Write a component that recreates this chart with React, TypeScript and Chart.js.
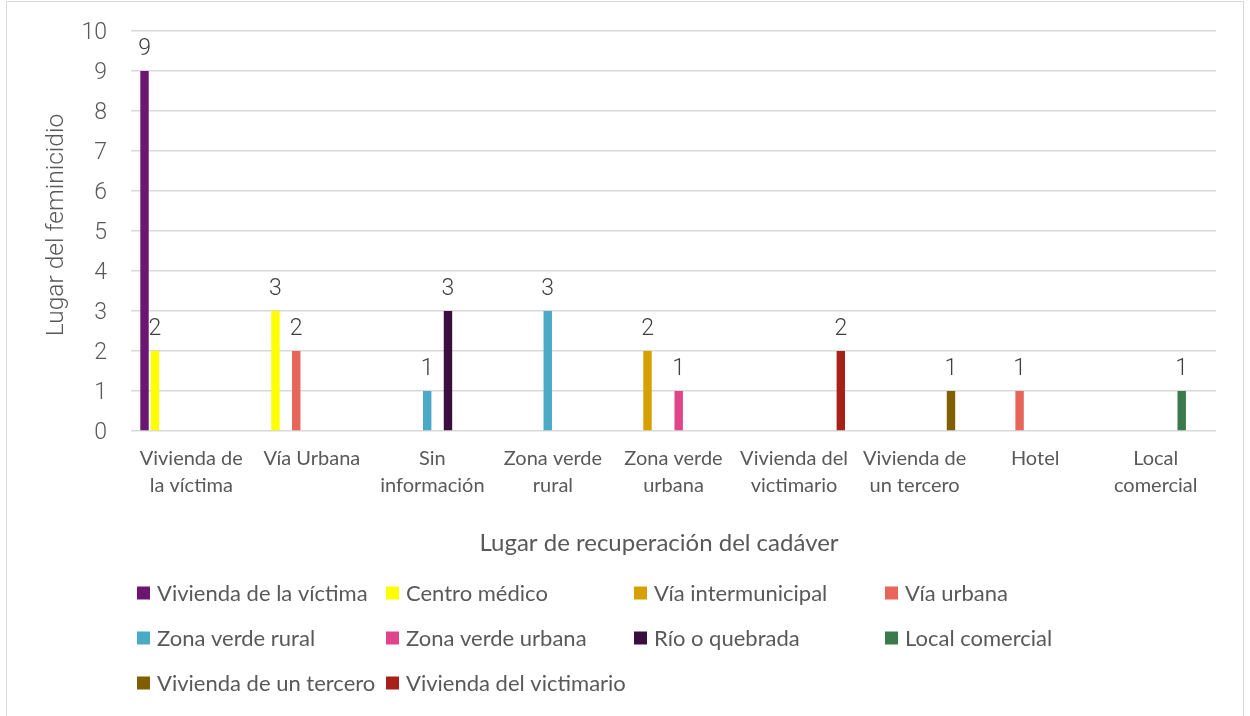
import React, { useEffect, useRef } from "react";
import { Chart, registerables } from "chart.js";

Chart.register(...registerables);

const categories: string[][] = [
  ["Vivienda de", "la víctima"],
  ["Vía Urbana"],
  ["Sin", "información"],
  ["Zona verde", "rural"],
  ["Zona verde", "urbana"],
  ["Vivienda del", "victimario"],
  ["Vivienda de", "un tercero"],
  ["Hotel"],
  ["Local", "comercial"],
];

const seriesNames = [
  "Vivienda de la víctima",
  "Centro médico",
  "Vía intermunicipal",
  "Vía urbana",
  "Zona verde rural",
  "Zona verde urbana",
  "Río o quebrada",
  "Local comercial",
  "Vivienda de un tercero",
  "Vivienda del victimario",
];

const seriesColors = [
  "#6B1670",
  "#FFFF00",
  "#D6A100",
  "#E8655A",
  "#4BAAC6",
  "#E0458A",
  "#3B0E40",
  "#3B7A4C",
  "#7F5F00",
  "#A8201A",
];

const N = null;
const viviendaVictima = [9, N, N, N, N, N, N, N, N];
const centroMedico = [2, 3, N, N, N, N, N, N, N];
const viaIntermunicipal = [N, N, N, N, 2, N, N, N, N];
const viaUrbana = [N, 2, N, N, N, N, N, 1, N];
const zonaVerdeRural = [N, N, 1, 3, N, N, N, N, N];
const zonaVerdeUrbana = [N, N, N, N, 1, N, N, N, N];
const rioQuebrada = [N, N, 3, N, N, N, N, N, N];
const localComercial = [N, N, N, N, N, N, N, N, 1];
const viviendaTercero = [N, N, N, N, N, N, 1, N, N];
const viviendaVictimario = [N, N, N, N, N, 2, N, N, N];

const seriesValues = [
  viviendaVictima,
  centroMedico,
  viaIntermunicipal,
  viaUrbana,
  zonaVerdeRural,
  zonaVerdeUrbana,
  rioQuebrada,
  localComercial,
  viviendaTercero,
  viviendaVictimario,
];

const yTicks = [0, 1, 2, 3, 4, 5, 6, 7, 8, 9, 10];
const xTitle = "Lugar de recuperación del cadáver";
const yTitle = "Lugar del feminicidio";

const NUM_FONT = "Roboto, 'DejaVu Sans', sans-serif";
const TXT_FONT = "Lato, 'Open Sans', sans-serif";
const GRAY = "#595959";

const decorPlugin = {
  id: "decor",
  afterDatasetsDraw(chart: any) {
    const ctx = chart.ctx;
    ctx.save();
    ctx.font = `300 23px ${NUM_FONT}`;
    ctx.fillStyle = "#404040";
    ctx.textAlign = "center";
    ctx.textBaseline = "middle";
    chart.data.datasets.forEach((ds: any, i: number) => {
      const meta = chart.getDatasetMeta(i);
      meta.data.forEach((bar: any, j: number) => {
        const v = ds.data[j];
        if (v === null || v === undefined) return;
        ctx.fillText(String(v), bar.x, bar.y - 22);
      });
    });
    ctx.restore();
  },
  afterDraw(chart: any) {
    const ctx = chart.ctx;
    const area = chart.chartArea;
    ctx.save();
    ctx.strokeStyle = "#d9d9d9";
    ctx.lineWidth = 1;
    ctx.strokeRect(6.5, 1.5, 1237, 730);
    ctx.fillStyle = GRAY;
    ctx.font = `300 24.5px ${NUM_FONT}`;
    ctx.textAlign = "center";
    ctx.textBaseline = "middle";
    ctx.save();
    ctx.translate(57, (area.top + area.bottom) / 2 - 6);
    ctx.rotate(-Math.PI / 2);
    ctx.fillText(yTitle, 0, 0);
    ctx.restore();
    ctx.font = `24px ${TXT_FONT}`;
    ctx.fillText(xTitle, 659, 543);
    const colX = [137, 386, 634, 885];
    const rowY = [593, 638, 683];
    ctx.font = `22px ${TXT_FONT}`;
    ctx.textAlign = "left";
    seriesNames.forEach((name, i) => {
      const c = i % 4;
      const r = Math.floor(i / 4);
      const x = colX[c];
      const y = rowY[r];
      ctx.fillStyle = seriesColors[i];
      ctx.fillRect(x, y - 6.5, 13, 13);
      ctx.fillStyle = GRAY;
      ctx.fillText(name, x + 20, y + 1);
    });
    ctx.restore();
  },
};

export default function App() {
  const ref = useRef<HTMLCanvasElement | null>(null);
  useEffect(() => {
    if (!ref.current) return;
    const chart = new Chart(ref.current, {
      type: "bar",
      data: {
        labels: categories,
        datasets: seriesNames.map((name, i) => ({
          label: name,
          data: seriesValues[i],
          backgroundColor: seriesColors[i],
          borderWidth: 0,
          categoryPercentage: 0.862,
          barPercentage: 0.81,
        })),
      },
      options: {
        responsive: false,
        animation: false,
        layout: { padding: { top: 31, right: 34, bottom: 0, left: 0 } },
        plugins: {
          legend: { display: false },
          tooltip: { enabled: false },
          title: { display: false },
        },
        scales: {
          x: {
            grid: { display: false, drawTicks: false },
            border: { display: false },
            ticks: {
              color: GRAY,
              font: { family: TXT_FONT, size: 20, lineHeight: 1.35 },
              padding: 14,
              maxRotation: 0,
              autoSkip: false,
            },
            afterFit: (scale: any) => {
              scale.height = 285;
              scale.paddingLeft = 0;
              scale.paddingRight = 0;
            },
          },
          y: {
            min: 0,
            max: 10,
            afterBuildTicks: (scale: any) => {
              scale.ticks = yTicks.map((v) => ({ value: v }));
            },
            grid: { color: "#d9d9d9", lineWidth: 1.5, drawTicks: false },
            border: { display: false },
            ticks: {
              color: GRAY,
              font: { family: NUM_FONT, size: 23, weight: "300" },
              padding: 24,
              labelOffset: 2,
            },
            afterFit: (scale: any) => {
              scale.width = 131;
              scale.paddingTop = 0;
              scale.paddingBottom = 0;
            },
          },
        },
      },
      plugins: [decorPlugin],
    });
    return () => chart.destroy();
  }, []);
  return (
    <div style={{ position: "fixed", left: 0, top: 0, width: 1250, height: 716, background: "#fff" }}>
      <canvas ref={ref} width={1250} height={716} style={{ width: 1250, height: 716, display: "block" }} />
    </div>
  );
}
